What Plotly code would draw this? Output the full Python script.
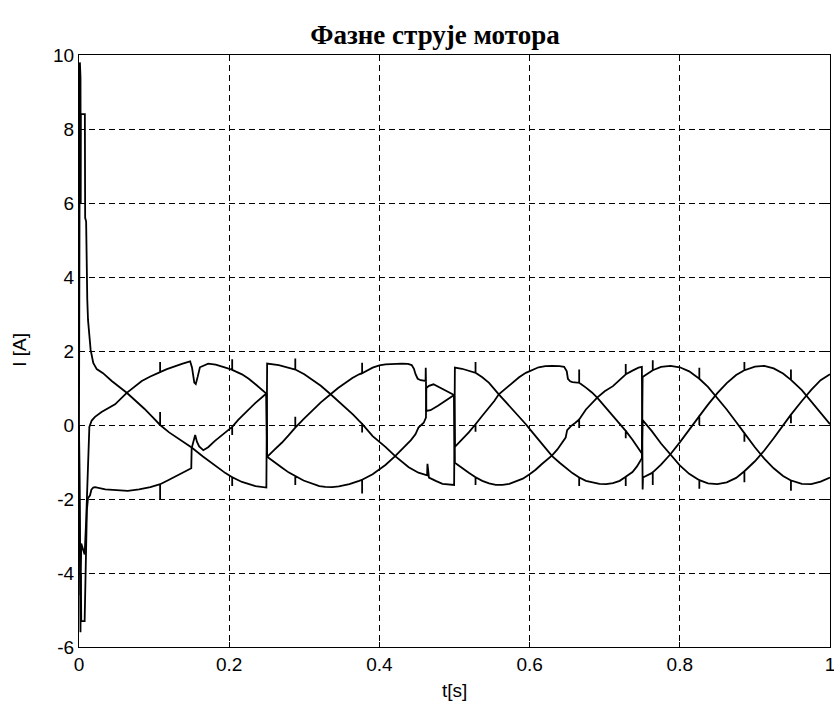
import plotly.graph_objects as go

# ---------------- data ----------------
t_a = [0.000, 0.0012, 0.0016, 0.0020, 0.0023, 0.0025, 0.0078, 0.0082, 0.0095,
       0.0102, 0.011, 0.012, 0.0135, 0.0155, 0.019, 0.0236, 0.032, 0.0436, 0.0636, 0.075, 0.087,
       0.098, 0.108, 0.108, 0.108, 0.12, 0.13, 0.14, 0.150, 0.165, 0.181, 0.195, 0.204, 0.204, 0.204,
       0.217, 0.235, 0.2495,
       0.2505, 0.266, 0.288, 0.288, 0.288, 0.300, 0.310, 0.322, 0.335, 0.345, 0.355, 0.365, 0.373,
       0.377, 0.377, 0.377, 0.391, 0.408, 0.421, 0.430, 0.439, 0.452, 0.461, 0.4635, 0.464, 0.466,
       0.475, 0.484, 0.4995,
       0.5005, 0.510, 0.520, 0.528, 0.528, 0.528, 0.537, 0.546, 0.559, 0.568, 0.577, 0.586, 0.595,
       0.603, 0.612, 0.621, 0.630, 0.640, 0.648, 0.657, 0.666, 0.666, 0.666, 0.675, 0.684, 0.693,
       0.702, 0.711, 0.720, 0.728, 0.728, 0.728, 0.737, 0.743, 0.7495,
       0.7505, 0.7625, 0.764, 0.764, 0.764, 0.775, 0.7875, 0.800, 0.8125, 0.826, 0.826, 0.826,
       0.8375, 0.850, 0.8625, 0.875, 0.886, 0.886, 0.886, 0.900, 0.9125, 0.925, 0.9375, 0.948,
       0.948, 0.948, 0.9625, 0.975, 0.9875, 1.000]
i_a = [0.0, 9.8, 6.0, 9.4, 6.0, 8.4, 8.4, 5.6, 5.5,
       4.0, 3.4, 2.84, 2.4, 2.03, 1.68, 1.51, 1.40, 1.19, 0.87, 0.67, 0.44,
       0.21, 0.0, 0.35, 0.0, -0.20, -0.34, -0.47, -0.61, -0.85, -1.10, -1.30, -1.41, -1.65, -1.41,
       -1.54, -1.65, -1.69,
       1.66, 1.62, 1.50, 1.80, 1.50, 1.37, 1.24, 1.06, 0.83, 0.65, 0.47, 0.28, 0.11,
       0.03, -0.20, 0.03, -0.30, -0.59, -0.84, -0.98, -1.14, -1.29, -1.36, -1.36, -1.05, -1.42,
       -1.51, -1.59, -1.62,
       1.55, 1.52, 1.46, 1.41, 1.70, 1.41, 1.29, 1.14, 0.83, 0.63, 0.42, 0.22, 0.02,
       -0.18, -0.40, -0.62, -0.84, -1.02, -1.15, -1.30, -1.42, -1.65, -1.42, -1.51, -1.56, -1.59,
       -1.60, -1.57, -1.51, -1.40, -1.65, -1.40, -1.27, -1.12, -0.90,
       1.30, 1.46, 1.48, 1.75, 1.48, 1.57, 1.60, 1.56, 1.45, 1.25, 1.55, 1.25,
       1.03, 0.74, 0.42, 0.08, -0.22, -0.45, -0.22, -0.60, -0.91, -1.17, -1.38, -1.50,
       -1.78, -1.50, -1.59, -1.60, -1.53, -1.42]

t_b = [0.000, 0.0012, 0.002, 0.003, 0.0075, 0.0095, 0.0105, 0.012,
       0.0138, 0.0169, 0.0213, 0.030, 0.040, 0.048, 0.0636, 0.0736, 0.0836, 0.095, 0.106, 0.108,
       0.108, 0.108, 0.117, 0.128, 0.138, 0.148, 0.1505, 0.1535, 0.1555, 0.158, 0.161, 0.172, 0.182,
       0.195, 0.204, 0.204, 0.204, 0.217, 0.226, 0.235, 0.2495,
       0.2505, 0.260, 0.270, 0.279, 0.288, 0.288, 0.288, 0.299, 0.310, 0.320, 0.328, 0.337, 0.346,
       0.360, 0.373, 0.377, 0.377, 0.377, 0.391, 0.400, 0.408, 0.421, 0.428, 0.435, 0.442, 0.448,
       0.452, 0.459, 0.462, 0.4625, 0.466, 0.472, 0.480, 0.490, 0.4995,
       0.5005, 0.510, 0.519, 0.528, 0.528, 0.528, 0.537, 0.546, 0.553, 0.559, 0.568, 0.577, 0.586,
       0.595, 0.603, 0.612, 0.621, 0.630, 0.640, 0.646, 0.6495, 0.651, 0.654, 0.657, 0.666, 0.666,
       0.666, 0.675, 0.683, 0.690, 0.700, 0.711, 0.720, 0.728, 0.728, 0.728, 0.737, 0.746, 0.7495,
       0.7505, 0.7625, 0.775, 0.7875, 0.800, 0.8125, 0.826, 0.826, 0.826, 0.8375, 0.850, 0.8625,
       0.875, 0.886, 0.886, 0.886, 0.900, 0.9125, 0.925, 0.9375, 0.948, 0.948, 0.948, 0.9625,
       0.975, 0.9875, 1.000]
i_b = [0.0, -3.0, -4.6, -3.2, -3.5, -2.6, -2.0, -0.9,
       -0.05, 0.12, 0.22, 0.35, 0.46, 0.56, 0.87, 1.03, 1.19, 1.31, 1.41, 1.43,
       1.70, 1.43, 1.51, 1.60, 1.66, 1.72, 1.55, 1.15, 1.11, 1.30, 1.56, 1.66, 1.63,
       1.55, 1.49, 1.78, 1.49, 1.37, 1.25, 1.10, 0.85,
       -0.86, -1.01, -1.15, -1.28, -1.38, -1.62, -1.38, -1.50, -1.59, -1.65, -1.67, -1.68, -1.66,
       -1.60, -1.51, -1.48, -1.85, -1.48, -1.33, -1.20, -1.08, -0.84, -0.70, -0.57, -0.41, -0.25,
       -0.07, 0.06, 0.20, 1.00, 1.06, 1.10, 1.02, 0.92, 0.81,
       -0.59, -0.40, -0.20, 0.02, -0.18, 0.02, 0.25, 0.47, 0.65, 0.83, 0.99, 1.14, 1.29,
       1.41, 1.49, 1.56, 1.59, 1.60, 1.59, 1.57, 1.45, 1.25, 1.18, 1.16, 1.14, 1.50,
       1.14, 1.01, 0.88, 0.74, 0.50, 0.24, 0.02, -0.16, -0.36, -0.16, -0.40, -0.65, -0.77,
       0.13, -0.16, -0.50, -0.81, -1.09, -1.32, -1.49, -1.72, -1.49, -1.58, -1.60, -1.55,
       -1.43, -1.25, -1.55, -1.25, -0.98, -0.69, -0.36, -0.01, 0.28, 0.05, 0.28, 0.65,
       0.95, 1.21, 1.37]

t_c = [0.000, 0.0012, 0.0016, 0.0020, 0.0025, 0.0030, 0.0075, 0.0085, 0.0095,
       0.0105, 0.012, 0.0147, 0.0165, 0.019, 0.0213, 0.035, 0.050, 0.065, 0.080, 0.095, 0.106,
       0.108, 0.108, 0.108, 0.118, 0.128, 0.138, 0.1495, 0.150, 0.1525, 0.1547, 0.157, 0.160,
       0.1655, 0.172, 0.181, 0.195, 0.204, 0.204, 0.204, 0.212, 0.221, 0.235, 0.2495,
       0.2505, 0.260, 0.270, 0.279, 0.288, 0.288, 0.288, 0.299, 0.310, 0.322, 0.335, 0.345, 0.355,
       0.364, 0.373, 0.377, 0.377, 0.377, 0.391, 0.400, 0.408, 0.420, 0.430, 0.438, 0.443, 0.446,
       0.448, 0.451, 0.455, 0.4615, 0.4617, 0.462, 0.4625, 0.468, 0.478, 0.490, 0.4995,
       0.5005, 0.510, 0.519, 0.528, 0.528, 0.528, 0.537, 0.546, 0.555, 0.564, 0.573, 0.582, 0.591,
       0.600, 0.608, 0.616, 0.623, 0.630, 0.637, 0.643, 0.648, 0.650, 0.655, 0.661, 0.666, 0.666,
       0.666, 0.675, 0.683, 0.690, 0.700, 0.711, 0.720, 0.728, 0.728, 0.728, 0.737, 0.745, 0.7495,
       0.7505, 0.751, 0.7625, 0.764, 0.764, 0.764, 0.775, 0.7875, 0.800, 0.8125, 0.826, 0.826,
       0.826, 0.8375, 0.850, 0.8625, 0.875, 0.886, 0.886, 0.886, 0.900, 0.9125, 0.925, 0.9375,
       0.948, 0.948, 0.948, 0.9625, 0.975, 0.9875, 1.000]
i_c = [0.0, -5.0, -3.6, -5.6, -4.0, -5.3, -5.3, -4.0, -3.0,
       -2.3, -1.98, -1.90, -1.75, -1.69, -1.68, -1.74, -1.76, -1.78, -1.74, -1.68, -1.61,
       -1.60, -2.00, -1.60, -1.50, -1.40, -1.30, -1.17, -0.63, -0.45, -0.27, -0.45, -0.58,
       -0.68, -0.60, -0.43, -0.21, -0.05, -0.27, -0.05, 0.14, 0.33, 0.60, 0.85,
       -0.86, -0.67, -0.48, -0.28, -0.07, 0.22, -0.07, 0.16, 0.38, 0.61, 0.83, 1.00, 1.14,
       1.27, 1.37, 1.40, 1.68, 1.40, 1.55, 1.61, 1.64, 1.66, 1.66, 1.65, 1.62, 1.52,
       1.38, 1.25, 1.21, 1.19, 1.55, 1.19, 0.38, 0.40, 0.52, 0.67, 0.81,
       -1.02, -1.17, -1.29, -1.41, -1.62, -1.41, -1.51, -1.58, -1.62, -1.62, -1.59, -1.53, -1.45,
       -1.33, -1.21, -1.06, -0.95, -0.82, -0.66, -0.48, -0.34, -0.14, -0.03, 0.06, 0.15, -0.08,
       0.15, 0.42, 0.60, 0.74, 0.91, 1.05, 1.22, 1.37, 1.65, 1.37, 1.47, 1.55, 1.57,
       -1.74, -1.42, -1.30, -1.28, -1.62, -1.28, -1.07, -0.79, -0.47, -0.13, 0.24, 0.00,
       0.24, 0.55, 0.86, 1.13, 1.35, 1.48, 1.70, 1.48, 1.58, 1.60, 1.53, 1.39,
       1.22, 1.50, 1.22, 0.94, 0.64, 0.31, 0.02]

x_ticks = [0, 0.2, 0.4, 0.6, 0.8, 1]
x_tick_labels = ["0", "0.2", "0.4", "0.6", "0.8", "1"]
y_ticks = [-6, -4, -2, 0, 2, 4, 6, 8, 10]
y_tick_labels = ["-6", "-4", "-2", "0", "2", "4", "6", "8", "10"]

title_text = "Фазне струје мотора"
x_label = "t[s]"
y_label = "I [A]"

# ---------------- figure ----------------
fig = go.Figure()
for tt, ii in [(t_a, i_a), (t_b, i_b), (t_c, i_c)]:
    fig.add_trace(go.Scatter(x=tt, y=ii, mode="lines",
                             line=dict(color="black", width=1.8),
                             showlegend=False, hoverinfo="skip"))

axis_common = dict(
    showline=True, linecolor="black", linewidth=1, mirror="ticks",
    showgrid=True, gridcolor="black", gridwidth=1, griddash="6px,4px",
    ticks="inside", ticklen=5, tickcolor="black", tickwidth=1,
    zeroline=False, ticklabeloverflow="allow", automargin=False,
    tickfont=dict(family="Liberation Sans, Arial, sans-serif", size=19, color="black"),
)

fig.update_xaxes(range=[0, 1], tickmode="array", tickvals=x_ticks, ticktext=x_tick_labels,
                 **axis_common)
fig.update_yaxes(range=[-6, 10], tickmode="array", tickvals=y_ticks, ticktext=y_tick_labels,
                 **axis_common)

fig.update_layout(
    width=834, height=711,
    margin=dict(l=79, r=4, t=55, b=64, autoexpand=False),
    paper_bgcolor="white", plot_bgcolor="white",
    title=dict(text="<b>" + title_text + "</b>", x=0.474, xref="paper", xanchor="center",
               y=1 - 35 / 711, yref="container", yanchor="middle",
               font=dict(family="Liberation Serif, Times New Roman, serif", size=27, color="black")),
    annotations=[
        dict(text=x_label, x=0.5, y=-0.073, xref="paper", yref="paper",
             xanchor="center", yanchor="middle", showarrow=False,
             font=dict(family="Liberation Sans, Arial, sans-serif", size=19, color="black")),
        dict(text=y_label, x=-0.0786, y=0.502, xref="paper", yref="paper",
             xanchor="center", yanchor="middle", showarrow=False, textangle=-90,
             font=dict(family="Liberation Sans, Arial, sans-serif", size=19, color="black")),
    ],
)

fig.write_html("out.html")
